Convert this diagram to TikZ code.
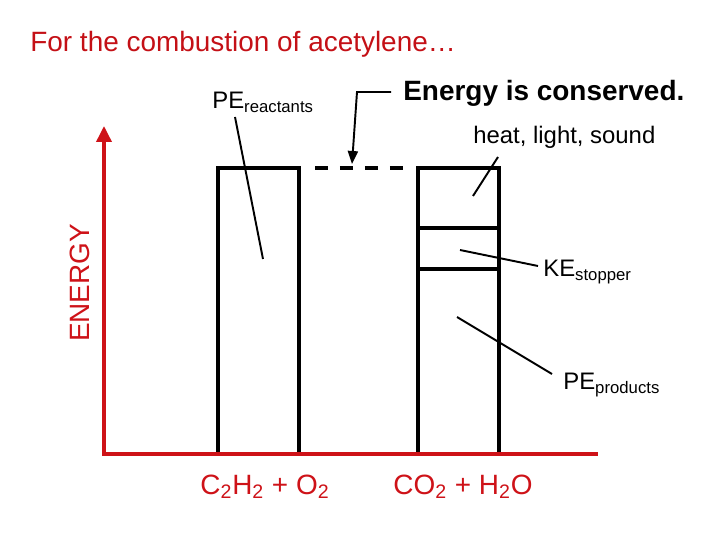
\documentclass[tikz,border=0pt]{standalone}
\usepackage{fontspec}
\setmainfont{Liberation Sans}
\usetikzlibrary{positioning,arrows.meta}
\usepackage{xcolor}
\definecolor{AxisRed}{RGB}{206,18,24}
\definecolor{TitleRed}{RGB}{196,16,22}

\begin{document}
\begin{tikzpicture}[
x=0.02cm,y=-0.02cm,
axis/.style={line width=2pt,draw=AxisRed},
bar/.style={line width=2.2pt,draw=black},
pointer/.style={line width=1.1pt,draw=black},
big/.style={font=\fontsize{15.9}{19}\selectfont,inner sep=0pt},
mid/.style={font=\fontsize{13.6}{16}\selectfont,inner sep=0pt}
]
\useasboundingbox (0,0) rectangle (720,540);
% title and axes
\node[big,text=TitleRed,anchor=base west] (title) at (30,52) {For the combustion of acetylene\ldots};
\draw[axis,{Triangle[width=0.3cm,length=0.32cm]}-] (104,126) -- (104,454) -- (598,454);
\node[big,text=AxisRed,rotate=90] (ylab) at (80,283) {ENERGY};
% bars
\draw[bar] (218,452) |- (299,168) -- (299,452);
\draw[bar] (418,452) |- (499,168) -- (499,452);
\draw[bar] (418,228) -- (499,228);
\draw[bar] (418,269) -- (499,269);
\draw[line width=2.8pt,dash pattern=on 7.4pt off 6.8pt] (315,168) -- (403,168);
\draw[axis] (104,454) -- (598,454);
% labels
\node[mid,anchor=base west] (per) at (212,109) {PE\textsubscript{reactants}};
\node[big,font=\fontsize{15.9}{19}\selectfont\bfseries,anchor=base west] (cons) at (403,101) {Energy is conserved.};
\node[mid,anchor=base west] (heat) at (473,144) {heat, light, sound};
\node[mid,anchor=base west] (kes) at (543,277) {KE\textsubscript{stopper}};
\node[mid,anchor=base west] (pep) at (563,390) {PE\textsubscript{products}};
\node[big,text=AxisRed,anchor=base west] (reac) at (200,494) {C\textsubscript{2}H\textsubscript{2} + O\textsubscript{2}};
\node[big,text=AxisRed,anchor=base west] (prod) at (393,494) {CO\textsubscript{2} + H\textsubscript{2}O};
% pointers
\coordinate (perA) at (235,117); \coordinate (perB) at (263,259);
\coordinate (consA) at (391,92); \coordinate (consK) at (357,92); \coordinate (consB) at (352,164);
\coordinate (heatA) at (498,157); \coordinate (heatB) at (473,196);
\coordinate (kesA) at (538,266); \coordinate (kesB) at (460,250);
\coordinate (pepA) at (552,374); \coordinate (pepB) at (457,317);
\draw[pointer] (perA) -- (perB);
\draw[pointer,-{Triangle[width=0.2cm,length=0.26cm]}] (consA) -- (consK) -- (consB);
\draw[pointer] (heatA) -- (heatB);
\draw[pointer] (kesA) -- (kesB);
\draw[pointer] (pepA) -- (pepB);
\end{tikzpicture}
\end{document}
